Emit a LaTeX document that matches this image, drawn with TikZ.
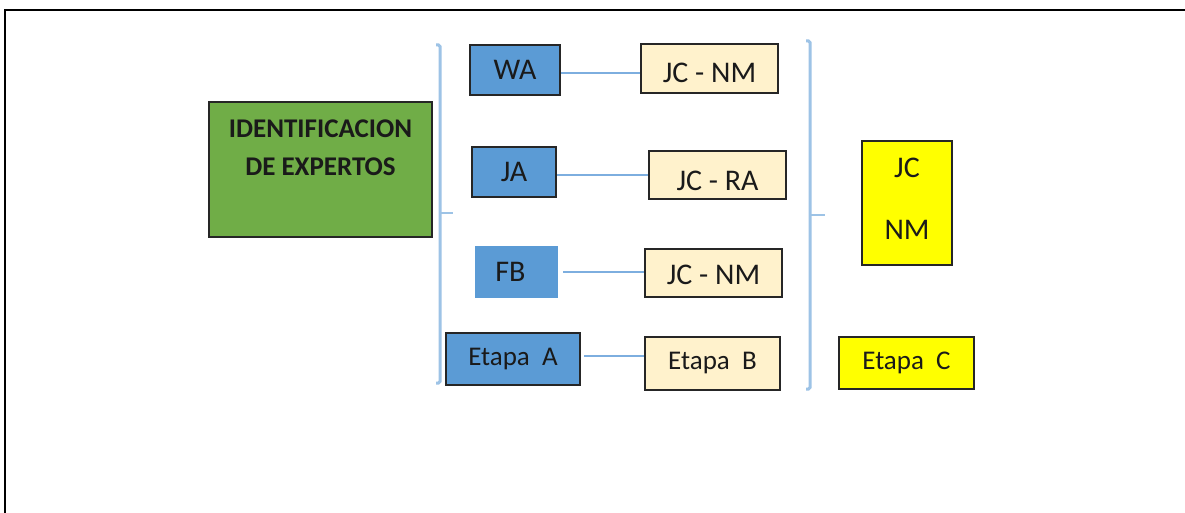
\documentclass[tikz,border=0pt]{standalone}
\usepackage{fontspec}
\setmainfont{Carlito}
\definecolor{blueF}{HTML}{5B9BD5}
\definecolor{creamF}{HTML}{FFF2CC}
\definecolor{yellowF}{HTML}{FFFF00}
\definecolor{greenF}{HTML}{70AD47}
\definecolor{boxline}{HTML}{262626}
\definecolor{txt}{HTML}{1A1A1A}
\definecolor{linkC}{HTML}{7DAEDF}
\definecolor{braceC}{HTML}{9DC3E6}
\begin{document}
\begin{tikzpicture}[x=1pt,y=-1pt,
  box/.style={draw=boxline, line width=2pt, inner sep=0pt, text=txt,
    font=\fontsize{30}{36}\selectfont},
  etapa/.style={font=\fontsize{27}{32}\selectfont},
  bluebox/.style={box, fill=blueF},
  creambox/.style={box, fill=creamF, minimum width=137pt, minimum height=49pt},
  yellowbox/.style={box, fill=yellowF},
  lowtext/.style={text height=#1, text depth=0pt},
  link/.style={draw=linkC, line width=2pt},
  bracket/.style={draw=braceC, line width=3pt, rounded corners=1.5pt}]
\useasboundingbox[fill=white] (0,0) rectangle (1185,513);

% outer frame (top and left edges)
\draw[line width=2.5pt] (5,513) -- (5,10) -- (1185,10);

% main block
\node[draw=boxline, line width=2pt, fill=greenF, inner sep=0pt,
      minimum width=223pt, minimum height=135pt] (id) at (320.5,169.5) {};
\node[font=\bfseries\fontsize{27}{37.5}\selectfont, align=center, text=txt,
      inner sep=0pt] (idtext) at (320.5,147.5) {IDENTIFICACION\\DE EXPERTOS};

% first column
\node[bluebox, minimum width=90pt, minimum height=50pt] (wa) at (515,70) {WA};
\node[bluebox, minimum width=84pt, minimum height=50pt] (ja) at (514,172) {JA};
\node[bluebox, draw=none, minimum width=83pt, minimum height=52pt] (fb) at (516.5,272) {FB\kern12pt};
\node[bluebox, etapa, minimum width=134pt, minimum height=52pt] (ea) at (513,359) {Etapa\ \ A};

% second column
\node[creambox, lowtext=28.3pt] (c1) at (709.5,68.5) {JC - NM};
\node[creambox, lowtext=31.3pt, minimum height=48pt] (c2) at (717.5,175) {JC - RA};
\node[creambox, lowtext=23pt, minimum height=48pt] (c3) at (713.5,273) {JC - NM};
\node[creambox, etapa, minimum width=135pt, minimum height=53pt] (eb) at (712.5,363.5) {Etapa\ \ B};

% third column
\node[yellowbox, align=center, font=\fontsize{30}{62}\selectfont, text depth=7.5pt,
      minimum width=90pt, minimum height=124pt] (jn) at (907,203) {JC\\NM};
\node[yellowbox, etapa, minimum width=135pt, minimum height=52pt] (ec) at (906.5,363) {Etapa\ \ C};

% connectors
\draw[link] ([yshift=-3pt]wa.east) -- ([yshift=-3pt]wa.east -| c1.west);
\draw[link] (c2.west -| ja.east) -- (c2.west);
\draw[link] ([xshift=4pt]fb.east) -- (fb.east -| c3.west);
\draw[link] ([xshift=3pt,yshift=3pt]ea.east) -- ([yshift=3pt]ea.east -| eb.west);

% brackets
\draw[bracket] (436,45) -- (440,45) -- (440,383) -- (436,383);
\draw[bracket, line width=2.5pt] (440,213) -- (453,213);
\draw[bracket] (806,41) -- (810,41) -- (810,389) -- (806,389);
\draw[bracket, line width=2.5pt] (810,215) -- (825,215);
\end{tikzpicture}
\end{document}
